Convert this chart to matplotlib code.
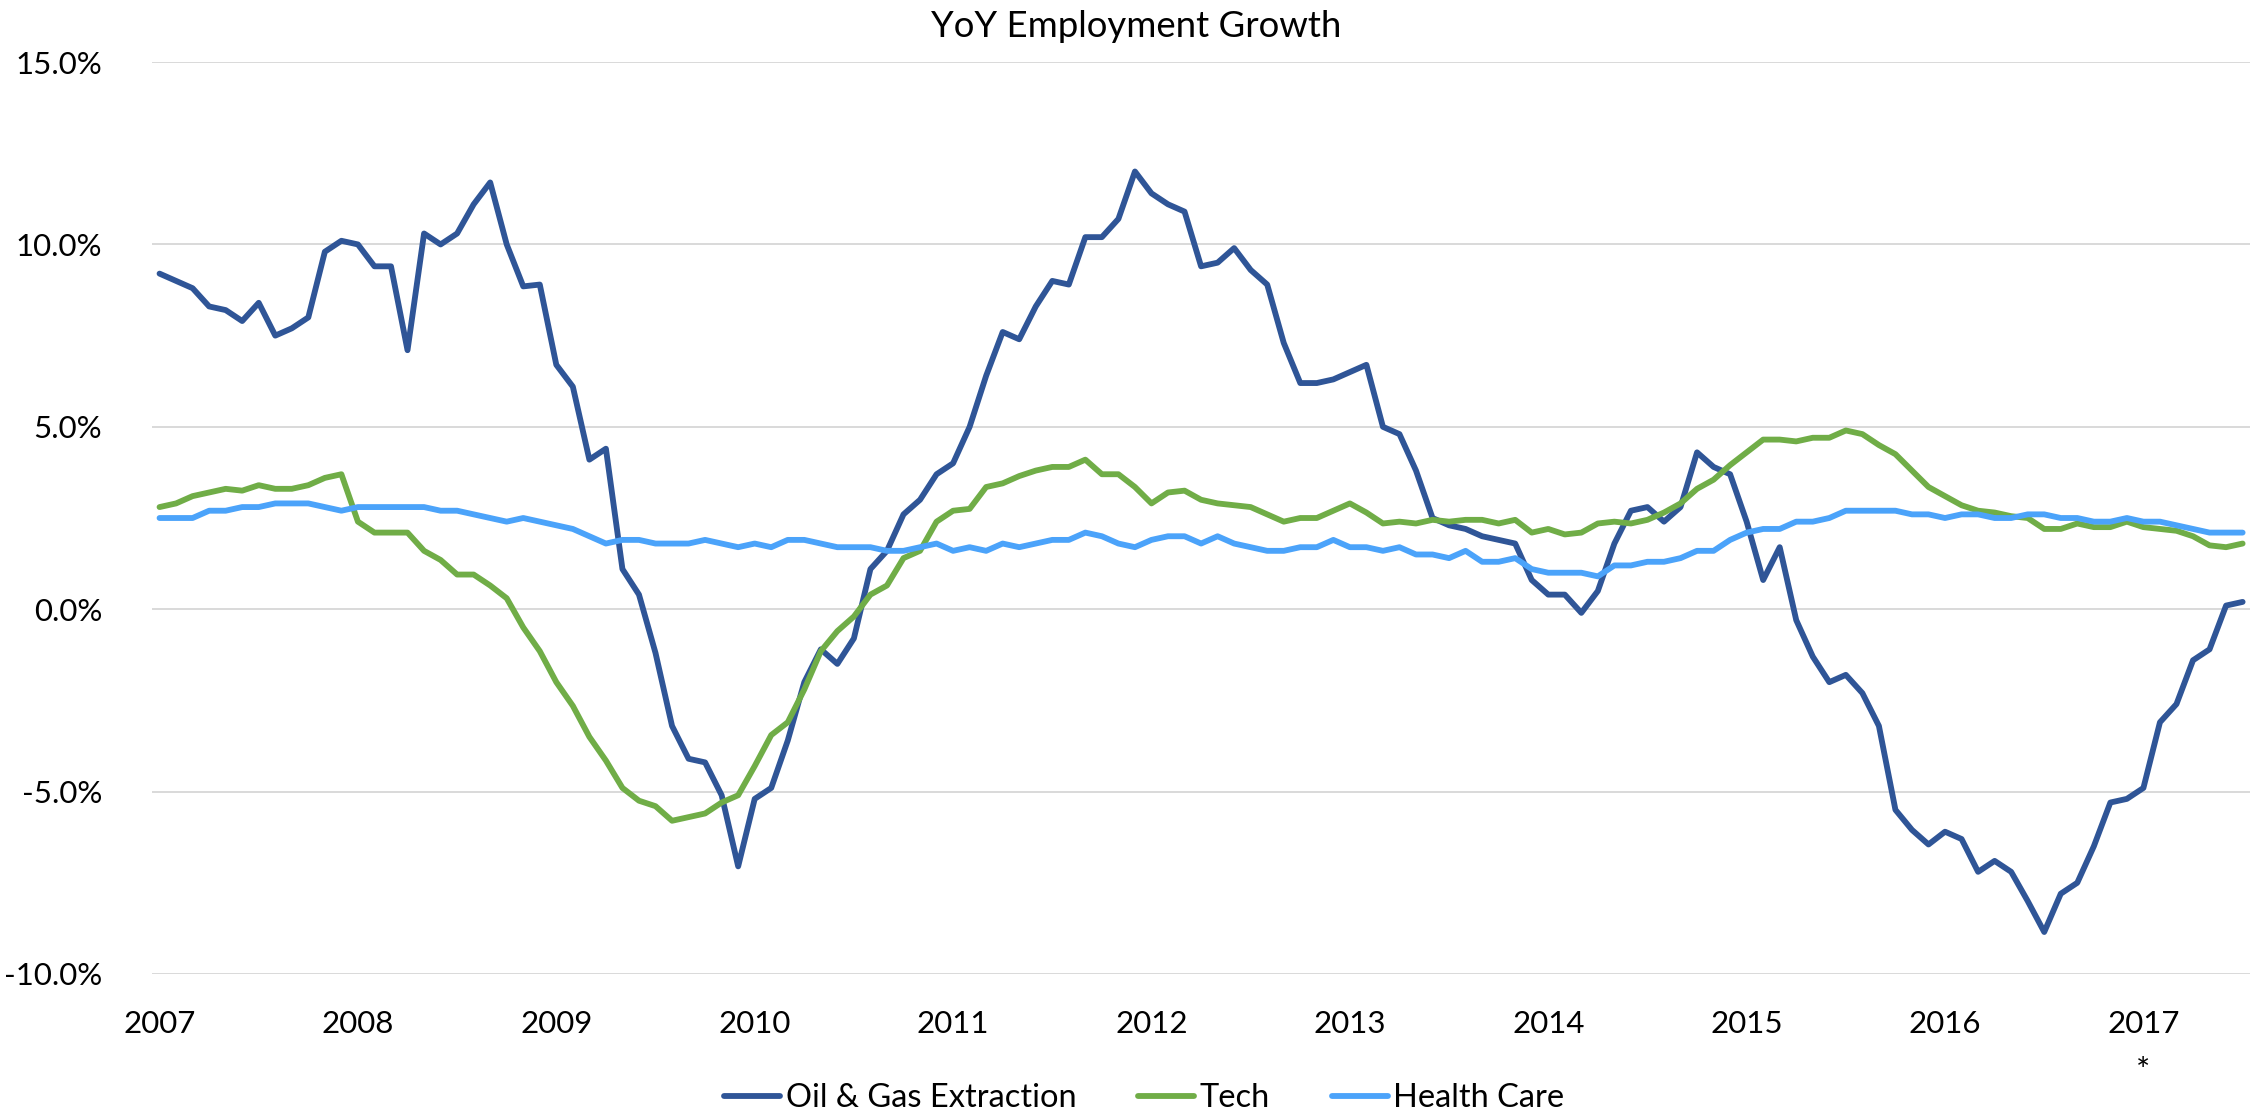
import numpy as np
import matplotlib.pyplot as plt
from matplotlib.ticker import FuncFormatter

# monthly YoY growth (%), Jan 2007 .. Jul 2017
oil = [
    9.2, 9.0, 8.8, 8.3, 8.2, 7.9, 8.4, 7.5, 7.7, 8.0, 9.8, 10.1,
    10.0, 9.4, 9.4, 7.1, 10.3, 10.0, 10.3, 11.1, 11.7, 10.0, 8.85, 8.9,
    6.7, 6.1, 4.1, 4.4, 1.1, 0.4, -1.2, -3.2, -4.1, -4.2, -5.1, -7.05,
    -5.2, -4.9, -3.6, -2.0, -1.1, -1.5, -0.8, 1.1, 1.6, 2.6, 3.0, 3.7,
    4.0, 5.0, 6.4, 7.6, 7.4, 8.3, 9.0, 8.9, 10.2, 10.2, 10.7, 12.0,
    11.4, 11.1, 10.9, 9.4, 9.5, 9.9, 9.3, 8.9, 7.3, 6.2, 6.2, 6.3,
    6.5, 6.7, 5.0, 4.8, 3.8, 2.5, 2.3, 2.2, 2.0, 1.9, 1.8, 0.8,
    0.4, 0.4, -0.1, 0.5, 1.8, 2.7, 2.8, 2.4, 2.8, 4.3, 3.9, 3.7,
    2.4, 0.8, 1.7, -0.3, -1.3, -2.0, -1.8, -2.3, -3.2, -5.5, -6.05, -6.45,
    -6.1, -6.3, -7.2, -6.9, -7.2, -8.0, -8.85, -7.8, -7.5, -6.5, -5.3, -5.2,
    -4.9, -3.1, -2.6, -1.4, -1.1, 0.1, 0.2,
]
tech = [
    2.8, 2.9, 3.1, 3.2, 3.3, 3.25, 3.4, 3.3, 3.3, 3.4, 3.6, 3.7,
    2.4, 2.1, 2.1, 2.1, 1.6, 1.35, 0.95, 0.95, 0.65, 0.3, -0.5, -1.15,
    -2.0, -2.65, -3.5, -4.15, -4.9, -5.25, -5.4, -5.8, -5.7, -5.6, -5.3, -5.1,
    -4.3, -3.45, -3.1, -2.2, -1.15, -0.6, -0.2, 0.4, 0.65, 1.4, 1.6, 2.4,
    2.7, 2.75, 3.35, 3.45, 3.65, 3.8, 3.9, 3.9, 4.1, 3.7, 3.7, 3.35,
    2.9, 3.2, 3.25, 3.0, 2.9, 2.85, 2.8, 2.6, 2.4, 2.5, 2.5, 2.7,
    2.9, 2.65, 2.35, 2.4, 2.35, 2.45, 2.4, 2.45, 2.45, 2.35, 2.45, 2.1,
    2.2, 2.05, 2.1, 2.35, 2.4, 2.35, 2.45, 2.65, 2.9, 3.3, 3.55, 3.95,
    4.3, 4.65, 4.65, 4.6, 4.7, 4.7, 4.9, 4.8, 4.5, 4.25, 3.8, 3.35,
    3.1, 2.85, 2.7, 2.65, 2.55, 2.5, 2.2, 2.2, 2.35, 2.25, 2.25, 2.4,
    2.25, 2.2, 2.15, 2.0, 1.75, 1.7, 1.8,
]
health = [
    2.5, 2.5, 2.5, 2.7, 2.7, 2.8, 2.8, 2.9, 2.9, 2.9, 2.8, 2.7,
    2.8, 2.8, 2.8, 2.8, 2.8, 2.7, 2.7, 2.6, 2.5, 2.4, 2.5, 2.4,
    2.3, 2.2, 2.0, 1.8, 1.9, 1.9, 1.8, 1.8, 1.8, 1.9, 1.8, 1.7,
    1.8, 1.7, 1.9, 1.9, 1.8, 1.7, 1.7, 1.7, 1.6, 1.6, 1.7, 1.8,
    1.6, 1.7, 1.6, 1.8, 1.7, 1.8, 1.9, 1.9, 2.1, 2.0, 1.8, 1.7,
    1.9, 2.0, 2.0, 1.8, 2.0, 1.8, 1.7, 1.6, 1.6, 1.7, 1.7, 1.9,
    1.7, 1.7, 1.6, 1.7, 1.5, 1.5, 1.4, 1.6, 1.3, 1.3, 1.4, 1.1,
    1.0, 1.0, 1.0, 0.9, 1.2, 1.2, 1.3, 1.3, 1.4, 1.6, 1.6, 1.9,
    2.1, 2.2, 2.2, 2.4, 2.4, 2.5, 2.7, 2.7, 2.7, 2.7, 2.6, 2.6,
    2.5, 2.6, 2.6, 2.5, 2.5, 2.6, 2.6, 2.5, 2.5, 2.4, 2.4, 2.5,
    2.4, 2.4, 2.3, 2.2, 2.1, 2.1, 2.1,
]
years = list(range(2007, 2018))
series_names = ["Oil & Gas Extraction", "Tech", "Health Care"]
colors = ["#2F5597", "#70AD47", "#4BA3FA"]

plt.rcParams['font.family'] = ['Lato', 'DejaVu Sans']

fig = plt.figure(figsize=(22.6, 11.14), dpi=100)
ax = fig.add_axes([0.0673, 0.1257, 0.9283, 0.8186])

x = np.arange(len(oil))
for vals, name, c in zip([oil, tech, health], series_names, colors):
    ax.plot(x, vals, color=c, lw=4.2, label=name, solid_joinstyle='round', solid_capstyle='round')

ax.set_ylim(-10, 15)
ax.set_yticks(np.arange(-10, 15.1, 5))
ax.yaxis.set_major_formatter(FuncFormatter(lambda v, p: f"{v:.1f}%"))
ax.set_xlim(-0.45, len(oil) - 1 + 0.45)
ax.set_xticks([12 * k for k in range(len(years))])
ax.set_xticklabels([str(y) for y in years])

ax.grid(axis='y', color='#D9D9D9', lw=1.4)
ax.set_axisbelow(True)
for s in ax.spines.values():
    s.set_visible(False)
ax.tick_params(axis='both', length=0, labelsize=22.5, colors='black')
ax.tick_params(axis='y', pad=36)
ax.tick_params(axis='x', pad=26)

# title sits centred on the whole figure, not the axes
fig.text(0.5027, 0.9765, "YoY Employment Growth", fontsize=26.3, ha='center', va='center')

ax.text(12 * 10, -0.107, "*", transform=ax.get_xaxis_transform(), ha='center', va='center', fontsize=24)

fig.legend(*ax.get_legend_handles_labels(), loc='center', bbox_to_anchor=(0.5064, 0.0144), ncol=3,
           frameon=False, fontsize=23.5, handlelength=1.7, handletextpad=0.18, columnspacing=1.9)

fig.savefig("out.png", dpi=100)
